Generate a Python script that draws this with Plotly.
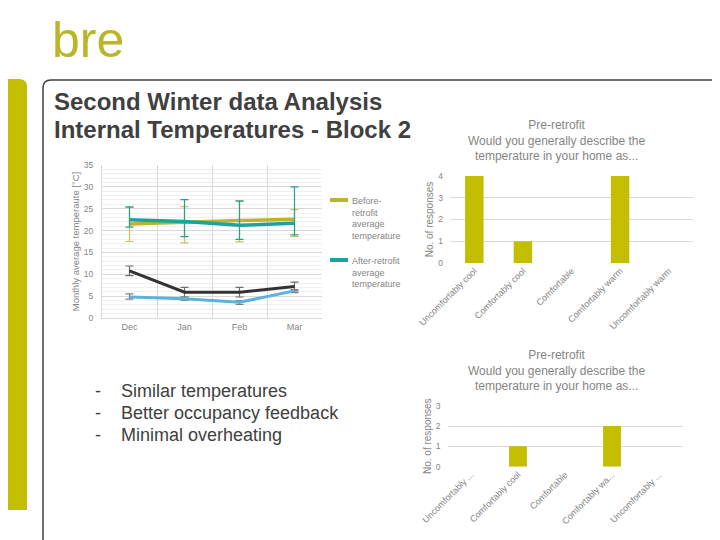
import plotly.graph_objects as go

# ---- data ----
months = ["Dec", "Jan", "Feb", "Mar"]

before_avg = [21.5, 22.0, 22.3, 22.6]
before_hi = [25.3, 25.5, 26.7, 24.8]
before_lo = [17.5, 17.2, 17.4, 18.6]

after_avg = [22.5, 22.1, 21.2, 21.7]
after_hi = [25.4, 27.1, 26.8, 30.0]
after_lo = [20.8, 18.6, 18.0, 19.0]

ext_before = [10.8, 5.9, 5.9, 7.2]
ext_before_hi = [11.9, 7.0, 7.0, 8.2]
ext_before_lo = [9.7, 4.8, 4.8, 6.2]

ext_after = [4.8, 4.4, 3.6, 6.2]
ext_after_hi = [5.5, 4.8, 4.0, 6.5]
ext_after_lo = [4.3, 4.0, 3.1, 5.8]

answers = ["Uncomfortably cool", "Comfortably cool", "Comfortable",
           "Comfortably warm", "Uncomfortably warm"]
answers_short = ["Uncomfortably ...", "Comfortably cool", "Comfortable",
                 "Comfortably wa...", "Uncomfortably ..."]
pre_counts = [4, 1, 0, 4, 0]
post_counts = [0, 1, 0, 2, 0]

bullets = ["Similar temperatures", "Better occupancy feedback",
           "Minimal overheating"]

OLIVE = "#C3BE00"
GREY_TXT = "#858585"
DARK_TXT = "#404040"
FONT = "Liberation Sans, Arial, sans-serif"

W, H = 720, 540
OFF = 8  # page body margin: the figure starts 8px in from the window edge


def px(x):
    return (x - OFF) / W


def py(y):
    return 1 - (y - OFF) / H


def err(avg, hi, lo, color):
    return dict(type="data", symmetric=False,
                array=[h - a for a, h in zip(avg, hi)],
                arrayminus=[a - l for a, l in zip(avg, lo)],
                color=color, thickness=1.2, width=4)


fig = go.Figure()

# Temperature line chart
fig.add_trace(go.Scatter(
    x=months, y=before_avg, mode="lines",
    line=dict(color="#BCB42A", width=3.5),
    error_y=err(before_avg, before_hi, before_lo, "#C9C25A"),
    showlegend=False, xaxis="x", yaxis="y"))
fig.add_trace(go.Scatter(
    x=months, y=after_avg, mode="lines",
    line=dict(color="#1DA39E", width=3.5),
    error_y=err(after_avg, after_hi, after_lo, "#2E9C8E"),
    showlegend=False, xaxis="x", yaxis="y"))
fig.add_trace(go.Scatter(
    x=months, y=ext_before, mode="lines",
    line=dict(color="#333333", width=3),
    error_y=err(ext_before, ext_before_hi, ext_before_lo, "#6E6E6E"),
    showlegend=False, xaxis="x", yaxis="y"))
fig.add_trace(go.Scatter(
    x=months, y=ext_after, mode="lines",
    line=dict(color="#5BB3D9", width=3),
    error_y=err(ext_after, ext_after_hi, ext_after_lo, "#808080"),
    showlegend=False, xaxis="x", yaxis="y"))

# Survey bar charts
fig.add_trace(go.Bar(x=answers, y=pre_counts, marker_color=OLIVE,
                     marker_line_width=0,
                     showlegend=False, xaxis="x2", yaxis="y2"))
fig.add_trace(go.Bar(x=answers, y=post_counts, marker_color=OLIVE,
                     marker_line_width=0,
                     showlegend=False, xaxis="x3", yaxis="y3"))

tick_font = dict(family=FONT, size=8.5, color=GREY_TXT)
cat_font = dict(family=FONT, size=9, color=GREY_TXT)
ttl_font = dict(family=FONT, size=10, color=GREY_TXT)

fig.update_layout(
    width=W, height=H,
    margin=dict(l=0, r=0, t=0, b=0),
    paper_bgcolor="white", plot_bgcolor="white",
    font=dict(family=FONT, color=GREY_TXT),
    bargap=0.62,
    xaxis=dict(domain=[px(102), px(322)], range=[-0.5, 3.5],
               tickson="boundaries",
               showgrid=True, gridcolor="#D9D9D9", ticks="",
               showline=True, linecolor="#D9D9D9",
               tickfont=dict(family=FONT, size=9, color=GREY_TXT),
               anchor="y", automargin=False),
    yaxis=dict(domain=[py(318), py(165)], range=[0, 35], dtick=5,
               showgrid=True, gridcolor="#D9D9D9",
               minor=dict(dtick=1, showgrid=True, gridcolor="#F0F0F0"),
               zeroline=False, showline=True, linecolor="#D9D9D9",
               tickfont=tick_font, ticklabelstandoff=6,
               title=dict(text="Monthly average temperaute [°C]",
                          font=dict(family=FONT, size=9.5, color=GREY_TXT),
                          standoff=2),
               anchor="x", automargin=False),
    xaxis2=dict(domain=[px(450), px(693)], showgrid=False, ticks="",
                tickangle=-45, tickfont=cat_font, anchor="y2",
                automargin=False),
    yaxis2=dict(domain=[py(263), py(176)], range=[0, 4], dtick=1,
                gridcolor="#D9D9D9", zeroline=False, tickfont=tick_font,
                ticklabelstandoff=6,
                title=dict(text="No. of responses", font=ttl_font, standoff=2),
                anchor="x2", automargin=False),
    xaxis3=dict(domain=[px(447.5), px(682.5)], showgrid=False, ticks="",
                tickangle=-45, tickfont=cat_font, anchor="y3",
                tickmode="array", tickvals=answers, ticktext=answers_short,
                automargin=False),
    yaxis3=dict(domain=[py(466.7), py(405.7)], range=[0, 3], dtick=1,
                gridcolor="#D9D9D9", zeroline=False, tickfont=tick_font,
                ticklabelstandoff=6,
                title=dict(text="No. of responses", font=ttl_font, standoff=2),
                anchor="x3", automargin=False),
)

# slide decoration: left olive tab and frame
fig.add_shape(type="path", xref="paper", yref="paper",
              path=(f"M {px(0)},{py(79)} L {px(19)},{py(79)} "
                    f"Q {px(27)},{py(79)} {px(27)},{py(87)} "
                    f"L {px(27)},{py(510)} L {px(0)},{py(510)} Z"),
              fillcolor=OLIVE, line=dict(width=0), layer="below")
fig.add_shape(type="path", xref="paper", yref="paper",
              path=(f"M {px(43)},{py(560)} L {px(43)},{py(88)} "
                    f"Q {px(43)},{py(80)} {px(51)},{py(80)} "
                    f"L {px(740)},{py(80)}"),
              line=dict(color="#404040", width=1.5), layer="below")

# legend keys for the line chart
legend_items = [("Before-<br>retrofit<br>average<br>temperature", "#BCB42A", 200),
                ("After-retrofit<br>average<br>temperature", "#1DA39E", 260)]
for text, color, yk in legend_items:
    fig.add_shape(type="line", xref="paper", yref="paper",
                  x0=px(330), x1=px(348), y0=py(yk), y1=py(yk),
                  line=dict(color=color, width=4))
    fig.add_annotation(x=px(350), y=py(yk - 6), xref="paper", yref="paper",
                       text=text, showarrow=False, xanchor="left",
                       yanchor="top", align="left",
                       font=dict(family=FONT, size=9, color=GREY_TXT))

# logo
fig.add_annotation(x=px(50), y=py(40), xref="paper", yref="paper",
                   text="bre", showarrow=False, xanchor="left",
                   yanchor="middle",
                   font=dict(family="Liberation Sans Narrow, Liberation Sans, sans-serif",
                             size=50, color="#B9B62A"))

# slide title
for txt, yt in [("Second Winter data Analysis", 101),
                ("Internal Temperatures - Block 2", 130)]:
    fig.add_annotation(x=px(52), y=py(yt), xref="paper", yref="paper",
                       text=f"<b>{txt}</b>", showarrow=False, xanchor="left",
                       yanchor="middle",
                       font=dict(family=FONT, size=24, color=DARK_TXT))

# chart titles
chart_title = ("Pre-retrofit<br>Would you generally describe the<br>"
               "temperature in your home as...")
for yc in [141, 370]:
    fig.add_annotation(x=px(557), y=py(yc), xref="paper", yref="paper",
                       text=chart_title, showarrow=False,
                       xanchor="center", yanchor="middle", align="center",
                       font=dict(family=FONT, size=12, color=GREY_TXT))

# bullet list
for i, item in enumerate(bullets):
    yb = 391 + 22 * i
    fig.add_annotation(x=px(93), y=py(yb), xref="paper", yref="paper",
                       text="-", showarrow=False, xanchor="left",
                       yanchor="middle",
                       font=dict(family=FONT, size=18, color=DARK_TXT))
    fig.add_annotation(x=px(119), y=py(yb), xref="paper", yref="paper",
                       text=item, showarrow=False, xanchor="left",
                       yanchor="middle",
                       font=dict(family=FONT, size=18, color=DARK_TXT))

fig.write_html("out.html")
